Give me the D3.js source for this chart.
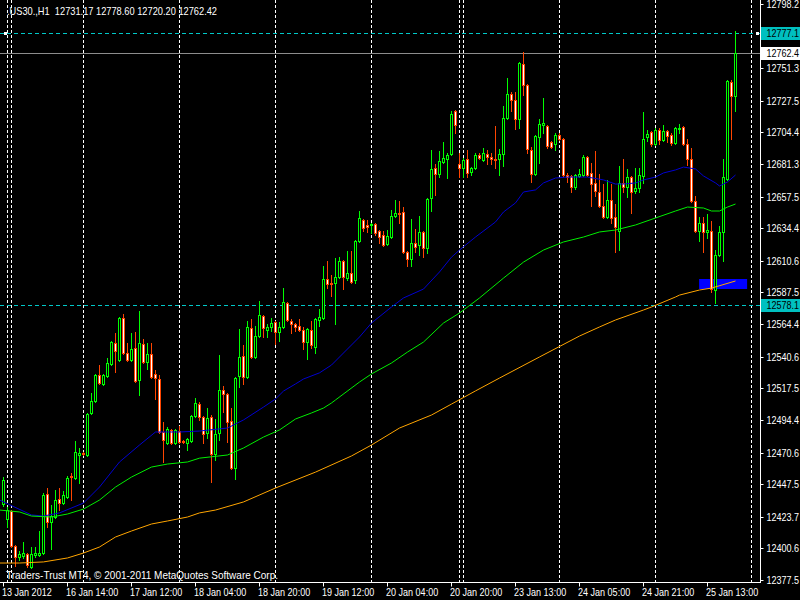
<!DOCTYPE html>
<html><head><meta charset="utf-8">
<script src="https://cdn.jsdelivr.net/npm/d3@7"></script>
<style>html,body{margin:0;padding:0;background:#000;}svg{display:block;}</style>
</head><body>
<svg id="c" width="800" height="600"></svg>
<script>
// ---- Data ----
const openP=[12433.0,12422.0,12427.9,12402.3,12394.3,12395.0,12396.5,12387.0,12395.8,12395.8,
12397.2,12440.3,12419.9,12423.5,12436.6,12433.7,12438.1,12453.5,12452.0,12468.8,
12470.3,12468.8,12499.5,12508.2,12527.2,12520.7,12526.5,12535.3,12550.6,12538.2,
12568.9,12543.3,12538.2,12546.9,12523.6,12549.9,12536.7,12542.6,12528.0,12524.3,
12485.6,12477.6,12487.1,12477.6,12486.3,12479.0,12477.6,12479.0,12497.3,12506.0,
12496.5,12484.9,12496.5,12469.5,12484.9,12516.3,12513.3,12493.6,12459.3,12526.5,
12541.1,12525.8,12561.6,12540.4,12555.7,12570.3,12560.1,12562.3,12565.9,12558.6,
12562.3,12579.8,12566.7,12564.5,12563.0,12560.1,12551.3,12560.1,12547.7,12567.4,
12568.9,12597.3,12594.4,12594.4,12598.8,12610.4,12598.0,12601.7,12596.6,12625.1,
12640.4,12636.8,12636.8,12637.5,12632.4,12629.5,12622.9,12628.0,12643.4,12645.5,
12646.3,12617.0,12611.9,12623.6,12622.1,12631.7,12619.9,12656.5,12678.4,12674.0,
12682.8,12685.0,12688.6,12720.0,12681.3,12678.4,12685.0,12675.5,12678.4,12687.9,
12684.3,12688.6,12686.4,12685.0,12685.0,12688.6,12714.9,12732.5,12728.1,12714.2,
12754.4,12739.0,12691.6,12674.0,12701.1,12709.8,12709.1,12697.4,12695.9,12702.5,
12699.6,12673.3,12672.6,12664.5,12672.6,12673.3,12686.4,12674.8,12667.5,12660.9,
12650.7,12642.6,12655.0,12642.6,12632.4,12667.5,12664.5,12671.8,12661.6,12663.8,
12672.6,12701.1,12704.7,12695.9,12706.2,12698.9,12705.4,12702.5,12696.7,12706.9,
12708.4,12695.9,12685.0,12654.3,12632.4,12638.2,12631.7,12632.4,12589.3,12614.8,
12631.7,12670.4,12741.2,12731.17];
const highP=[12452.7,12430.8,12428.6,12403.1,12398.7,12405.2,12397.2,12401.6,12401.6,12413.3,
12441.0,12444.7,12432.3,12443.2,12444.7,12442.5,12453.5,12455.6,12479.0,12473.9,
12471.0,12499.5,12514.1,12528.0,12534.5,12528.0,12539.6,12552.1,12557.9,12569.6,
12571.8,12550.6,12557.9,12558.6,12574.0,12553.5,12550.6,12550.6,12530.9,12527.2,
12492.9,12489.2,12487.8,12487.8,12490.0,12479.7,12481.2,12498.0,12510.4,12507.5,
12497.3,12503.1,12498.0,12495.1,12541.8,12519.2,12514.1,12503.1,12525.8,12560.8,
12549.1,12566.7,12568.1,12563.0,12581.3,12571.0,12564.5,12568.9,12566.7,12565.9,
12590.7,12580.5,12568.1,12565.2,12568.1,12562.3,12561.6,12566.7,12568.9,12575.4,
12606.8,12610.4,12600.2,12612.6,12613.3,12611.2,12617.7,12617.7,12625.8,12647.0,
12641.2,12640.4,12638.2,12638.2,12633.1,12632.4,12633.1,12647.7,12655.0,12654.3,
12649.9,12617.7,12641.2,12633.9,12643.4,12632.4,12656.5,12691.6,12681.3,12690.8,
12697.4,12689.4,12720.0,12720.8,12689.4,12685.7,12691.6,12679.1,12689.4,12689.4,
12693.0,12691.6,12689.4,12709.1,12692.3,12723.7,12744.2,12733.9,12733.9,12755.8,
12763.1,12739.8,12693.7,12702.5,12714.2,12729.5,12709.8,12698.1,12704.0,12704.0,
12700.3,12674.8,12673.3,12674.0,12677.7,12687.9,12687.2,12682.1,12690.8,12674.0,
12666.7,12669.7,12666.7,12652.1,12679.9,12685.0,12677.7,12672.6,12678.4,12678.4,
12719.3,12706.2,12705.4,12707.6,12707.6,12709.8,12706.2,12704.0,12708.4,12710.6,
12709.1,12699.6,12693.0,12658.0,12642.6,12642.6,12644.8,12639.7,12618.5,12636.1,
12685.0,12742.7,12742.7,12778.60];
const lowP=[12431.5,12416.2,12401.6,12387.7,12392.1,12393.6,12387.0,12386.3,12394.3,12395.0,
12396.5,12416.2,12400.1,12422.8,12428.6,12433.0,12437.4,12435.9,12451.3,12448.3,
12468.8,12468.1,12498.7,12507.5,12520.7,12519.9,12525.8,12534.5,12529.4,12537.5,
12542.6,12537.5,12537.5,12522.1,12512.6,12536.0,12531.6,12525.0,12509.7,12484.9,
12463.7,12476.8,12476.8,12476.8,12477.6,12477.6,12472.4,12478.3,12496.5,12494.4,
12477.6,12481.2,12449.1,12465.1,12479.7,12500.2,12478.3,12458.6,12451.3,12518.5,
12520.7,12525.0,12539.6,12539.6,12555.0,12555.0,12555.0,12559.4,12549.9,12552.1,
12561.6,12566.7,12557.9,12559.4,12559.4,12546.2,12538.9,12546.9,12543.3,12563.0,
12568.1,12590.7,12584.9,12564.5,12598.0,12590.0,12596.6,12594.4,12594.4,12624.4,
12632.4,12631.7,12631.0,12629.5,12623.6,12621.4,12622.1,12627.3,12642.6,12638.2,
12616.3,12606.8,12606.8,12617.0,12614.8,12613.3,12616.3,12647.0,12658.7,12671.8,
12682.1,12671.1,12687.9,12704.0,12671.8,12671.8,12671.8,12673.3,12677.7,12685.0,
12683.5,12681.3,12681.3,12678.4,12673.3,12679.9,12714.2,12720.0,12706.9,12707.6,
12731.7,12689.4,12668.2,12673.3,12682.1,12704.0,12693.0,12693.0,12691.6,12698.9,
12671.8,12668.2,12660.9,12663.1,12671.8,12672.6,12672.6,12650.7,12658.0,12649.9,
12641.9,12641.9,12638.2,12617.0,12618.5,12660.9,12657.2,12645.5,12660.2,12660.9,
12667.5,12698.1,12694.5,12695.2,12695.9,12698.1,12697.4,12695.2,12695.9,12704.0,
12695.2,12680.6,12653.6,12631.7,12625.1,12617.0,12627.3,12587.8,12579.8,12614.1,
12610.4,12669.7,12699.6,12720.20];
const closeP=[12450.5,12428.6,12402.3,12394.3,12396.5,12397.2,12388.4,12396.5,12397.2,12397.2,
12439.6,12419.9,12424.2,12435.9,12433.7,12439.6,12452.0,12452.7,12471.0,12470.3,
12469.5,12498.7,12508.2,12527.2,12521.4,12527.2,12536.0,12551.3,12544.7,12568.9,
12543.3,12538.2,12546.2,12522.8,12550.6,12536.7,12542.6,12525.8,12525.0,12485.6,
12479.7,12487.8,12477.6,12487.1,12478.3,12478.3,12480.5,12497.3,12506.8,12496.5,
12484.1,12495.8,12469.5,12484.1,12516.3,12513.3,12492.9,12459.3,12525.0,12540.4,
12525.8,12562.3,12540.4,12555.7,12571.0,12561.6,12562.3,12565.2,12558.6,12562.3,
12580.5,12567.4,12564.5,12562.3,12560.1,12551.3,12560.8,12549.1,12568.1,12569.6,
12597.3,12593.6,12593.6,12598.8,12610.4,12598.8,12601.7,12595.1,12625.1,12641.9,
12634.6,12635.3,12637.5,12631.0,12628.0,12622.1,12628.8,12643.4,12645.5,12644.8,
12617.0,12611.9,12623.6,12620.7,12631.7,12619.9,12655.8,12677.7,12674.0,12683.5,
12685.7,12687.9,12717.9,12709.8,12678.4,12684.3,12674.8,12678.4,12687.9,12685.7,
12689.4,12686.4,12685.0,12684.3,12688.6,12714.9,12732.5,12728.1,12714.2,12755.1,
12739.0,12692.3,12674.0,12701.8,12710.5,12711.3,12694.5,12693.7,12702.5,12699.6,
12673.3,12671.8,12664.5,12673.3,12674.0,12686.4,12673.3,12666.7,12661.6,12650.7,
12642.6,12655.0,12641.9,12635.3,12667.5,12664.5,12671.8,12660.9,12663.8,12673.3,
12699.6,12703.3,12695.9,12706.2,12698.9,12705.4,12701.8,12696.7,12707.6,12707.6,
12695.9,12685.0,12654.3,12632.4,12638.2,12631.7,12633.1,12590.0,12614.8,12631.7,
12671.8,12742.0,12731.17,12762.42];

// moving averages: [bar index, value]
const maBlue=[[-1,12435.9],[7,12425.0],[10,12424.2],[14,12426.5],[20,12433.7],[24,12445.4],[29,12463.7],[34,12476.1],[38,12485.6],[44,12485.6],[49,12486.3],[56,12488.5],[60,12494.4],[65,12503.8],[68,12509.7],[70,12515.5],[73,12520.7],[75,12524.3],[79,12528.8],[82,12534.5],[85,12543.3],[89,12555.0],[92,12565.2],[97,12576.9],[100,12583.5],[105,12590.0],[109,12602.5],[112,12613.3],[114,12618.5],[118,12628.0],[123,12639.0],[125,12646.3],[128,12652.9],[130,12660.9],[133,12662.4],[135,12667.5],[138,12671.1],[141,12671.8],[146,12671.8],[150,12669.7],[153,12666.7],[155,12666.7],[158,12667.5],[160,12669.7],[163,12671.8],[165,12674.8],[168,12677.0],[170,12679.1],[173,12677.7],[175,12672.6],[178,12667.5],[179,12665.3],[181,12668.2],[183,12673.3]];
const maGreen=[[-1,12428.6],[4,12427.2],[7,12424.2],[12,12423.5],[16,12425.7],[20,12429.3],[24,12435.9],[28,12445.4],[32,12452.7],[37,12460.0],[41,12462.2],[46,12463.7],[49,12466.5],[56,12468.8],[60,12473.9],[65,12481.9],[69,12487.1],[73,12495.1],[77,12499.5],[80,12503.1],[82,12506.8],[83,12509.0],[89,12522.1],[92,12528.0],[97,12536.0],[101,12544.0],[105,12551.3],[110,12565.2],[114,12572.5],[119,12583.5],[125,12598.0],[130,12609.7],[135,12618.5],[140,12624.4],[145,12628.0],[149,12631.7],[153,12633.1],[158,12636.8],[163,12641.9],[168,12647.0],[171,12649.9],[175,12649.2],[177,12647.0],[179,12647.0],[181,12649.9],[183,12652.1]];
const maOrange=[[-1,12389.9],[4,12389.9],[10,12390.7],[16,12393.6],[20,12397.2],[24,12401.6],[28,12408.9],[32,12413.3],[37,12418.4],[41,12420.6],[46,12423.5],[49,12426.5],[53,12428.6],[60,12434.5],[68,12444.7],[78,12456.3],[87,12468.1],[92,12476.1],[99,12488.5],[107,12498.0],[112,12506.0],[118,12515.6],[124,12525.0],[134,12540.4],[144,12555.7],[149,12562.3],[153,12567.4],[160,12574.7],[162,12576.9],[168,12584.2],[169,12585.6],[174,12589.3],[177,12590.7],[183,12595.9]];

const priceTicks=[12798.2,12774.8,12751.3,12727.5,12704.4,12681.3,12657.5,12634.4,12610.6,12587.5,12564.4,12540.6,12517.5,12494.4,12470.6,12447.5,12423.7,12400.6,12377.5];
const priceTickLabels=['12798.2','12774.8','12751.3','12727.5','12704.4','12681.3','12657.5','12634.4','12610.6','12587.5','12564.4','12540.6','12517.5','12494.4','12470.6','12447.5','12423.7','12400.6','12377.5'];
const timeTickBars=[0,16,32,48,64,80,96,112,128,144,160,176];
const timeTickLabels=['13 Jan 2012','16 Jan 14:00','17 Jan 12:00','18 Jan 04:00','18 Jan 20:00','19 Jan 12:00','20 Jan 04:00','20 Jan 20:00','23 Jan 13:00','24 Jan 05:00','24 Jan 21:00','25 Jan 13:00'];
const separatorBars=[1,2,20,44,68,92,114,115,139,163,187];
const levelPrices=[12777.1,12578.1];
const levelLabels=['12777.1','12578.1'];
const bidPrice=12762.42, bidLabel='12762.4';
const zoneBars=[173.9,185.9], zonePrices=[12590.0,12597.3];
const titleText='.US30.,H1  12731.17 12778.60 12720.20 12762.42';
const footerText='Traders-Trust MT4, \u00A9 2001-2011 MetaQuotes Software Corp.';

// ---- Drawing ----
const FONT='"Liberation Sans",Arial,sans-serif';
const NARROW=0.82;
function squeeze(sel,factor){
  sel.each(function(){
    const L=this.getComputedTextLength();
    this.setAttribute('textLength',(L*factor).toFixed(1));
    this.setAttribute('lengthAdjust','spacingAndGlyphs');
  });
}
const svg=d3.select('#c');
svg.append('rect').attr('width',800).attr('height',600).attr('fill','#000');
const y=d3.scaleLinear().domain([12377.5,12798.2]).range([580,4]);
const yr=y.copy().interpolate(d3.interpolateRound);
const x=d3.scaleLinear().domain([0,187]).range([3.5,751.5]);
const py=v=>Math.round(y(v));

svg.append('clipPath').attr('id','clip').append('rect').attr('x',0).attr('y',0).attr('width',760).attr('height',582);
const plot=svg.append('g').attr('clip-path','url(#clip)');

// zone rectangle (background object)
plot.append('rect')
  .attr('x',x(zoneBars[0])).attr('width',x(zoneBars[1])-x(zoneBars[0]))
  .attr('y',py(zonePrices[1])).attr('height',py(zonePrices[0])-py(zonePrices[1]))
  .attr('fill','#0000ff');

// vertical separators
plot.selectAll('line.sep').data(separatorBars).join('line').attr('class','sep')
  .attr('x1',d=>x(d)).attr('x2',d=>x(d)).attr('y1',0).attr('y2',582)
  .attr('stroke','#fff').attr('stroke-width',1).attr('stroke-dasharray','3,2');

// horizontal level lines
plot.selectAll('line.lvl').data(levelPrices).join('line').attr('class','lvl')
  .attr('x1',0).attr('x2',760).attr('y1',d=>py(d)+0.5).attr('y2',d=>py(d)+0.5)
  .attr('stroke','#00c8c8').attr('stroke-width',1).attr('stroke-dasharray','4,3');
plot.append('line').attr('x1',0).attr('x2',760).attr('y1',py(bidPrice)+0.5).attr('y2',py(bidPrice)+0.5)
  .attr('stroke','#8c8c8c').attr('stroke-width',1);

// candles
const idx=d3.range(openP.length);
const cg=plot.append('g');
idx.forEach(i=>{
  const xc=x(i);
  const bull=closeP[i]>=openP[i];
  const col=bull?'#00ff00':'#ff4500';
  const yh=py(highP[i]), yl=py(lowP[i]);
  cg.append('line').attr('x1',xc).attr('x2',xc).attr('y1',yh).attr('y2',yl+1)
    .attr('stroke',col).attr('stroke-width',1);
  const yo=py(openP[i]), yc=py(closeP[i]);
  const top=Math.min(yo,yc), bot=Math.max(yo,yc);
  if(bot-top<1){
    cg.append('line').attr('x1',xc-1.5).attr('x2',xc+1.5).attr('y1',top+0.5).attr('y2',top+0.5)
      .attr('stroke',col).attr('stroke-width',1);
  } else {
    cg.append('rect').attr('x',xc-1).attr('width',2).attr('y',top+0.5).attr('height',bot-top)
      .attr('fill',bull?'#000':'#fff').attr('stroke',col).attr('stroke-width',1);
  }
});

// moving averages
const line=d3.line().x(d=>x(d[0])).y(d=>y(d[1]));
[[maBlue,'#0000d0'],[maGreen,'#00ee00'],[maOrange,'#ffa500']].forEach(([d,c])=>{
  plot.append('path').datum(d).attr('d',line).attr('fill','none').attr('stroke',c).attr('stroke-width',1);
});

// small markers at the level line ends
svg.append('rect').attr('x',4).attr('y',py(levelPrices[0])-1).attr('width',3).attr('height',3).attr('fill','#fff');
svg.append('rect').attr('x',756).attr('y',py(levelPrices[0])-1).attr('width',3).attr('height',3).attr('fill','#fff');

// axes frame
svg.append('line').attr('x1',760.5).attr('x2',760.5).attr('y1',0).attr('y2',583).attr('stroke','#fff');
svg.append('line').attr('x1',0).attr('x2',761).attr('y1',582.5).attr('y2',582.5).attr('stroke','#fff');

// right price axis
const ya=svg.append('g').attr('transform','translate(760.5,0)')
  .call(d3.axisRight(yr).tickValues(priceTicks).tickSize(3).tickPadding(3).tickFormat((d,i)=>priceTickLabels[i]));
ya.select('.domain').remove();
ya.selectAll('line').attr('stroke','#fff');
ya.selectAll('text').attr('fill','#fff').attr('font-family',FONT).attr('font-size',11).attr('dy','0.36em');
squeeze(ya.selectAll('text'),NARROW);

// bottom time axis
const xa=svg.append('g').attr('transform','translate(0,582.5)')
  .call(d3.axisBottom(x).tickValues(timeTickBars).offset(0).tickSize(4).tickFormat((d,i)=>timeTickLabels[i]));
xa.select('.domain').remove();
xa.selectAll('line').attr('stroke','#fff');
xa.selectAll('text').attr('fill','#fff').attr('font-family',FONT).attr('font-size',11)
  .attr('text-anchor','start').attr('x',-1.5).attr('y',13.5).attr('dy',null);
squeeze(xa.selectAll('text'),NARROW);

// price label boxes
function box(price,label,fill){
  const yy=py(price);
  svg.append('rect').attr('x',761).attr('y',yy-6).attr('width',39).attr('height',13).attr('fill',fill);
  const t=svg.append('text').attr('x',766.5).attr('y',yy+0.5).attr('dy','0.36em').attr('fill','#000')
    .attr('font-family',FONT).attr('font-size',11).text(label);
  squeeze(t,NARROW);
}
levelPrices.forEach((p,i)=>box(p,levelLabels[i],'#00c0c0'));
box(bidPrice,bidLabel,'#fff');

// texts
const tt=svg.append('text').attr('x',7).attr('y',14.5).attr('fill','#fff').attr('font-family',FONT).attr('font-size',11)
  .attr('xml:space','preserve').style('white-space','pre').text(titleText);
tt.attr('textLength',210).attr('lengthAdjust','spacingAndGlyphs');
const ft=svg.append('text').attr('x',6).attr('y',578.5).attr('fill','#fff').attr('font-family',FONT).attr('font-size',11)
  .text(footerText);
ft.attr('textLength',272).attr('lengthAdjust','spacingAndGlyphs');
</script>
</body></html>
